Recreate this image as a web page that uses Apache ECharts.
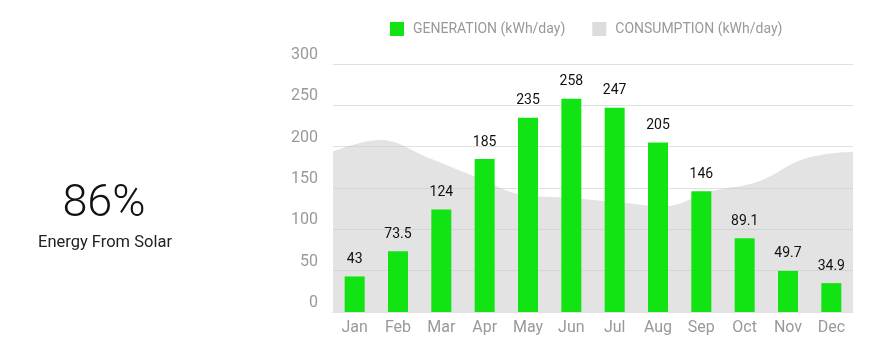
<!DOCTYPE html>
<html>
<head>
<meta charset="utf-8">
<style>
  html, body { margin: 0; padding: 0; background: #fff; }
  #chart { width: 873px; height: 345px; }
</style>
<script src="https://cdn.jsdelivr.net/npm/echarts@6/dist/echarts.min.js"></script>
</head>
<body>
<div id="chart"></div>
<script>
// Monthly solar generation and household consumption (kWh/day)
const months = ['Jan', 'Feb', 'Mar', 'Apr', 'May', 'Jun', 'Jul', 'Aug', 'Sep', 'Oct', 'Nov', 'Dec'];
const generation = [43, 73.5, 124, 185, 235, 258, 247, 205, 146, 89.1, 49.7, 34.9];
const consumption = [194, 208, 187, 164, 142, 138, 133, 128, 146, 158, 186, 194];
const yTicks = { min: 0, max: 300, interval: 50 };
const solarShare = '86%';
const solarCaption = 'Energy From Solar';

const chart = echarts.init(document.getElementById('chart'), null, { renderer: 'canvas' });

const font = 'Roboto, "Noto Sans", sans-serif';

chart.setOption({
  animation: false,
  textStyle: { fontFamily: font },
  title: [
    {
      text: solarShare,
      left: 99,
      top: 177,
      textAlign: 'center',
      textStyle: { fontFamily: font, fontSize: 45, fontWeight: 300, color: '#111' }
    },
    {
      text: solarCaption,
      left: 100,
      top: 229,
      textAlign: 'center',
      textStyle: { fontFamily: font, fontSize: 16.5, fontWeight: 'normal', color: '#222' }
    }
  ],
  legend: {
    top: 17,
    left: 385,
    itemWidth: 14,
    itemHeight: 14,
    itemGap: 27,
    icon: 'rect',
    textStyle: { fontFamily: font, fontSize: 14, color: '#999', padding: [0, 0, 0, 4] },
    data: ['GENERATION (kWh/day)', 'CONSUMPTION (kWh/day)']
  },
  grid: { left: 333, right: 20, top: 64, bottom: 33 },
  xAxis: [
    {
      type: 'category',
      data: months,
      boundaryGap: true,
      axisLine: { show: true, lineStyle: { color: '#e2e2e2' } },
      axisTick: { show: false },
      axisLabel: { color: '#999', fontSize: 16, margin: 8, fontFamily: font }
    },
    {
      type: 'category',
      data: months,
      boundaryGap: false,
      show: false
    }
  ],
  yAxis: {
    type: 'value',
    min: yTicks.min,
    max: yTicks.max,
    interval: yTicks.interval,
    axisLine: { show: false },
    axisTick: { show: false },
    axisLabel: { color: '#999', fontSize: 16, margin: 15, fontFamily: font, verticalAlign: 'bottom', padding: [0, 0, 1, 0] },
    splitLine: { lineStyle: { color: '#e0e0e0', width: 1 } }
  },
  series: [
    {
      name: 'CONSUMPTION (kWh/day)',
      type: 'line',
      xAxisIndex: 1,
      data: consumption,
      smooth: 0.4,
      symbol: 'none',
      lineStyle: { width: 0 },
      itemStyle: { color: '#dcdcdc' },
      areaStyle: { color: '#c8c8c8', opacity: 0.5 },
      z: 1
    },
    {
      name: 'GENERATION (kWh/day)',
      type: 'bar',
      data: generation,
      barWidth: 20,
      itemStyle: { color: '#12e312' },
      label: {
        show: true,
        position: 'top',
        distance: 10,
        color: '#111',
        fontSize: 14,
        fontFamily: font
      },
      z: 3
    }
  ]
});
</script>
</body>
</html>
